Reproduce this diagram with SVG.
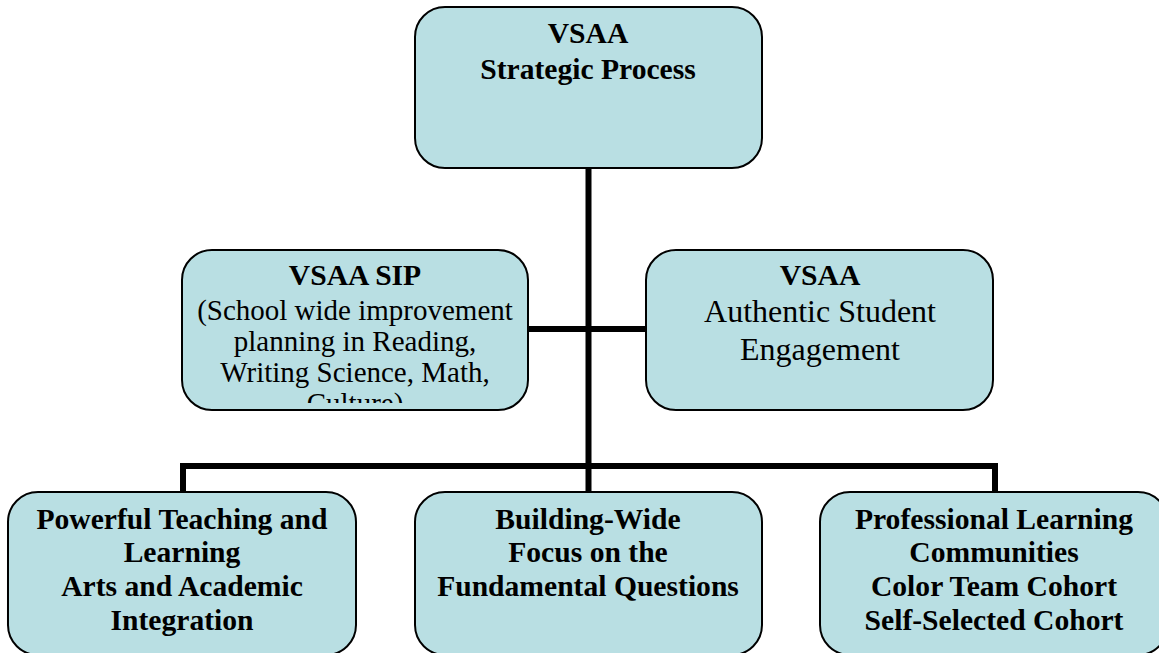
<svg xmlns="http://www.w3.org/2000/svg" width="1159" height="653" viewBox="0 0 1159 653">
<style>
.box{fill:#b9dfe3;stroke:#000;stroke-width:2}
.t{font-family:"Liberation Serif","Times New Roman",serif;font-size:29px;text-anchor:middle;fill:#000}
.b{font-weight:bold;font-size:29.6px}
.l{font-size:32px}
.c{fill:none;stroke:#000;stroke-width:6}
</style>
<defs>
<clipPath id="sipclip"><rect x="183" y="251" width="344" height="152"/></clipPath>
</defs>
<rect width="1159" height="653" fill="#fff"/>
<g id="connectors">
<path class="c" d="M588.5 168V466M528 329H646M183 492V466H995V492M588.5 466V492"/>
</g>
<g id="node-top">
<rect class="box" x="415" y="7" width="347" height="161" rx="30"/>
<text class="t b" x="588" y="43">VSAA</text>
<text class="t b" x="588" y="79">Strategic Process</text>
</g>
<g id="node-sip">
<rect class="box" x="182" y="250" width="346" height="160" rx="30"/>
<g clip-path="url(#sipclip)">
<text class="t b" x="355" y="285">VSAA SIP</text>
<text class="t" x="355" y="320">(School wide improvement</text>
<text class="t" x="355" y="351">planning in Reading,</text>
<text class="t" x="355" y="382">Writing Science, Math,</text>
<text class="t" x="355" y="413">Culture)</text>
</g>
</g>
<g id="node-engagement">
<rect class="box" x="646" y="250" width="347" height="160" rx="30"/>
<text class="t b" x="820" y="285">VSAA</text>
<text class="t l" x="820" y="322">Authentic Student</text>
<text class="t l" x="820" y="360">Engagement</text>
</g>
<g id="node-teaching">
<rect class="box" x="8" y="492" width="348" height="163" rx="30"/>
<text class="t b" x="182" y="529">Powerful Teaching and</text>
<text class="t b" x="182" y="562">Learning</text>
<text class="t b" x="182" y="596">Arts and Academic</text>
<text class="t b" x="182" y="630">Integration</text>
</g>
<g id="node-building">
<rect class="box" x="415" y="492" width="347" height="163" rx="30"/>
<text class="t b" x="588" y="529">Building-Wide</text>
<text class="t b" x="588" y="562">Focus on the</text>
<text class="t b" x="588" y="596">Fundamental Questions</text>
</g>
<g id="node-plc">
<rect class="box" x="820" y="492" width="348" height="163" rx="30"/>
<text class="t b" x="994" y="529">Professional Learning</text>
<text class="t b" x="994" y="562">Communities</text>
<text class="t b" x="994" y="596">Color Team Cohort</text>
<text class="t b" x="994" y="630">Self-Selected Cohort</text>
</g>
</svg>
